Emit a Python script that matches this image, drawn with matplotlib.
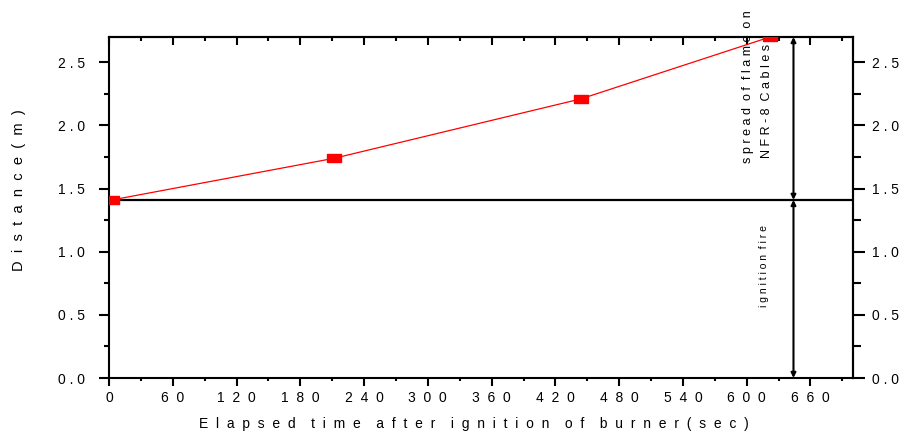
import numpy as np
import matplotlib
matplotlib.use("Agg")
import matplotlib.pyplot as plt
from matplotlib.ticker import FixedLocator, MultipleLocator

plt.rcParams['font.family'] = ['Liberation Sans', 'DejaVu Sans']

# ---- data ----
time_s = [3, 212, 444, 622]
distance_m = [1.41, 1.74, 2.21, 2.70]
ignition_level = 1.41
arrow_time = 644
x_ticks = [0, 60, 120, 180, 240, 300, 360, 420, 480, 540, 600, 660]
y_ticks = [0.0, 0.5, 1.0, 1.5, 2.0, 2.5]
x_tick_labels = ["0", "60", "120", "180", "240", "300", "360",
                 "420", "480", "540", "600", "660"]
y_tick_labels = ["0.0", "0.5", "1.0", "1.5", "2.0", "2.5"]
x_label = "Elapsed time after ignition of burner(sec)"
y_label = "Distance(m)"
note_top1 = "spread of flame on"
note_top2 = "NFR-8 Cables"
note_bottom = "ignition fire"


def spaced(s, gap=" ", wgap="  "):
    return wgap.join(gap.join(w) for w in s.split())


fig = plt.figure(figsize=(9.07, 4.37), dpi=100)
ax = fig.add_axes([109/907, 1-378/437, (853-109)/907, (378-37)/437])
ax.set_xlim(0, 700)
ax.set_ylim(0, 2.7)

for sp in ax.spines.values():
    sp.set_linewidth(1.5)

rect = [(-1, -0.6), (1, -0.6), (1, 0.6), (-1, 0.6), (-1, -0.6)]
ax.plot(time_s, distance_m, color='red', lw=0.9, marker=rect,
        markersize=10, markerfacecolor='red', markeredgecolor='red', zorder=3)

ax.axhline(ignition_level, color='black', lw=1.6, zorder=2)

arrow_kw = dict(arrowstyle='<|-|>', color='black', lw=1.5,
                mutation_scale=7, shrinkA=0, shrinkB=0)
ax.annotate("", xy=(arrow_time, 0), xytext=(arrow_time, ignition_level),
            arrowprops=arrow_kw)
ax.annotate("", xy=(arrow_time, ignition_level), xytext=(arrow_time, 2.7),
            arrowprops=arrow_kw)

ax.text(601.5, 1.705, spaced(note_top1), rotation=90, ha='center', va='bottom',
        fontsize=9, clip_on=False)
ax.text(619.5, 1.745, spaced(note_top2), rotation=90, ha='center', va='bottom',
        fontsize=9, clip_on=False)
ax.text(616.6, 0.888, spaced(note_bottom), rotation=90, ha='center', va='center',
        fontsize=7.5)

xt_labels = [spaced(s, "  ") for s in x_tick_labels]
yt_labels = [spaced(s, " ") for s in y_tick_labels]

# bottom axis
ax.xaxis.set_major_locator(FixedLocator(x_ticks))
ax.set_xticklabels(xt_labels)
ax.xaxis.set_minor_locator(MultipleLocator(30))
ax.tick_params(axis='x', which='major', direction='out', length=6, width=1.5,
               labelsize=10, pad=3.5)
ax.tick_params(axis='x', which='minor', direction='out', length=2.5, width=1.5)

# left axis
ax.yaxis.set_major_locator(FixedLocator(y_ticks))
ax.set_yticklabels(yt_labels)
ax.yaxis.set_minor_locator(MultipleLocator(0.25))
ax.tick_params(axis='y', which='major', direction='out', length=7.5, width=1.5,
               labelsize=10, pad=10)
ax.tick_params(axis='y', which='minor', direction='out', length=3.5, width=1.5)

# top axis (inward ticks)
top = ax.secondary_xaxis('top')
top.xaxis.set_major_locator(FixedLocator(x_ticks))
top.xaxis.set_minor_locator(MultipleLocator(30))
top.tick_params(axis='x', which='major', direction='in', length=6, width=1.5,
                labeltop=False)
top.tick_params(axis='x', which='minor', direction='in', length=3, width=1.5)
top.spines['top'].set_linewidth(1.5)

# right axis (outward ticks with labels)
right = ax.secondary_yaxis('right')
right.yaxis.set_major_locator(FixedLocator(y_ticks))
right.set_yticklabels(yt_labels)
right.yaxis.set_minor_locator(MultipleLocator(0.25))
right.tick_params(axis='y', which='major', direction='out', length=8.5, width=1.5,
                  labelsize=10, pad=5)
right.tick_params(axis='y', which='minor', direction='out', length=6, width=1.5)
right.spines['right'].set_linewidth(1.5)

ax.set_xlabel(spaced(x_label, "  ", "    "), fontsize=10)
ax.xaxis.set_label_coords(0.49, -0.114)
ax.set_ylabel(spaced(y_label, "  ", "   "), fontsize=10.5)
ax.yaxis.set_label_coords(-0.111, 0.551)

fig.savefig("out.png", dpi=100)
